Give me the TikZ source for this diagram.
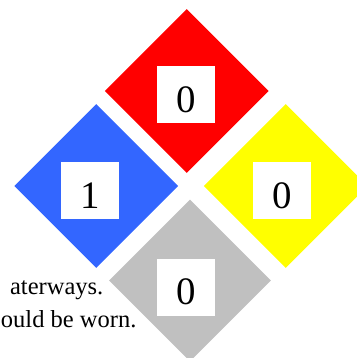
\documentclass[tikz,border=0pt]{standalone}
\usepackage{fontspec}
\setmainfont{Liberation Serif}
\usetikzlibrary{shapes.geometric}
\definecolor{firered}{RGB}{255,0,0}
\definecolor{healthblue}{RGB}{51,102,255}
\definecolor{reactyellow}{RGB}{255,255,0}
\definecolor{specialgray}{RGB}{192,192,192}

\begin{document}
\begin{tikzpicture}[x=1bp,y=-1bp,
  hazard/.style={diamond,inner sep=0pt,minimum size=164bp},
  rating/.style={fill=white,inner sep=0pt,minimum width=58bp,minimum height=57bp,
    text height=35bp,text depth=0pt,font=\fontsize{39}{39}\selectfont},
  note/.style={inner sep=0pt,anchor=base east,font=\fontsize{24.6}{30}\selectfont}]
  \useasboundingbox (0,0) rectangle (357,358);
  \clip (0,0) rectangle (357,358);

  \node[hazard,fill=firered] (fire) at (186.7,91) {};
  \node[hazard,fill=healthblue] (health) at (96.2,186) {};
  \node[hazard,fill=reactyellow] (react) at (285.7,186) {};
  \node[hazard,fill=specialgray,minimum size=162bp] (special) at (190,280.5) {};

  \node[rating] (firenum) at (186,94.7) {0};
  \node[rating] (healthnum) at (90,190.7) {1};
  \node[rating] (reactnum) at (282,190.7) {0};
  \node[rating] (specialnum) at (186.2,287) {0};

  \node[note] (noteone) at (103.5,294) {aterways.};
  \node[note] (notetwo) at (136.6,327) {ould be worn.};
\end{tikzpicture}
\end{document}
